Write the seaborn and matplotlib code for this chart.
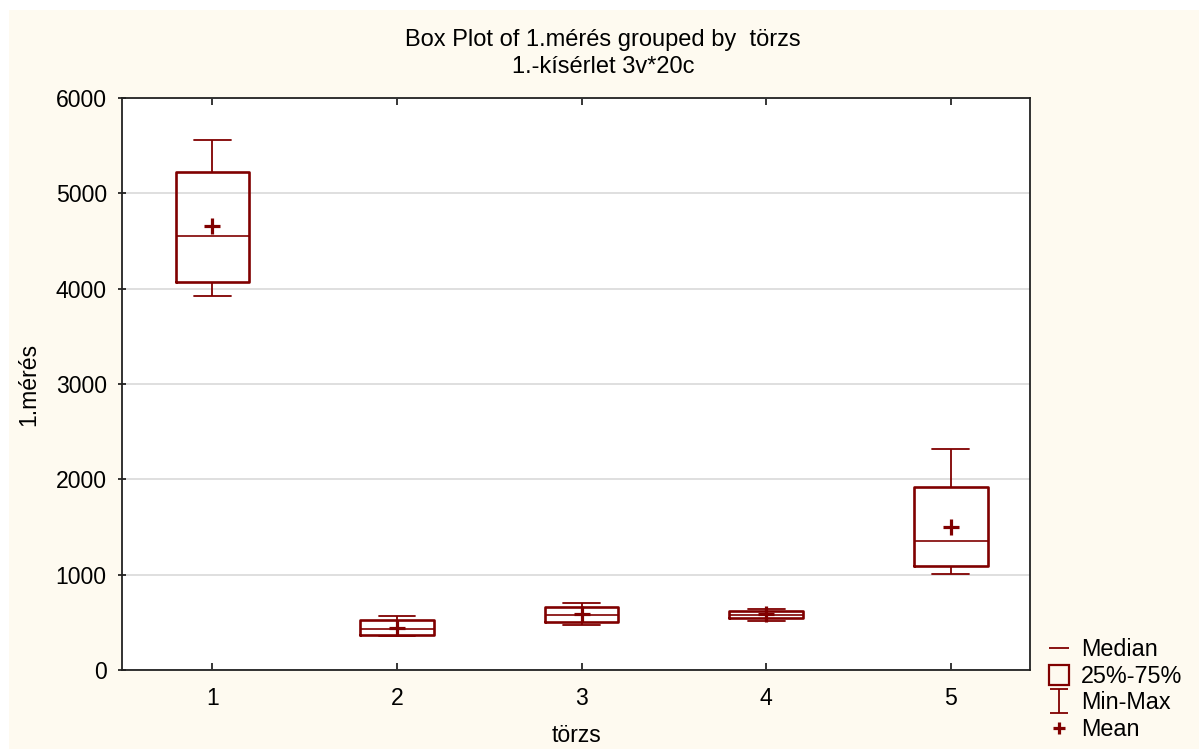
import numpy as np
import pandas as pd
import matplotlib
matplotlib.use("Agg")
import matplotlib.pyplot as plt
from matplotlib.lines import Line2D
from matplotlib.patches import Rectangle
from matplotlib.path import Path
import seaborn as sns

# adatok (leolvasva)
torzs = ["1", "2", "3", "4", "5"]
minimum = [3924, 357, 475, 517, 1007]
q1 = [4071, 367, 500, 546, 1091]
median = [4554, 427, 577, 580, 1350]
q3 = [5225, 521, 658, 622, 1920]
maximum = [5561, 567, 706, 640, 2319]
mean = [4659, 444, 588, 584, 1500]
yticks = [0, 1000, 2000, 3000, 4000, 5000, 6000]

# öt-szám összefoglaló -> hosszú formátum (kvartilisek így pontosan visszajönnek)
rows = []
for i, t in enumerate(torzs):
    for v in (minimum[i], q1[i], median[i], q3[i], maximum[i]):
        rows.append({"törzs": t, "1.mérés": v})
df = pd.DataFrame(rows)
mean_df = pd.DataFrame({"törzs": torzs, "1.mérés": mean})

sns.set_style("white")
plt.rcParams["font.family"] = ["Liberation Sans", "DejaVu Sans"]
plt.rcParams["text.color"] = "black"
plt.rcParams["axes.labelcolor"] = "black"
plt.rcParams["xtick.color"] = "black"
plt.rcParams["ytick.color"] = "black"

red = "#800000"
cream = "#FEFAF0"

fig = plt.figure(figsize=(11.99, 7.49), dpi=100, facecolor="white")
fig.patches.append(Rectangle((9 / 1199, 0), 1, 1 - 10 / 749, transform=fig.transFigure,
                             facecolor=cream, edgecolor="none", zorder=-10))
ax = fig.add_axes([122 / 1199, 1 - 670 / 749, (1030 - 122) / 1199, (670 - 98) / 749])
ax.set_facecolor("white")

sns.boxplot(data=df, x="törzs", y="1.mérés", order=torzs, ax=ax,
            whis=(0, 100), width=0.4, fill=False, color=red, showfliers=False,
            boxprops=dict(linewidth=1.9, color=red),
            medianprops=dict(linewidth=1.2, color=red),
            whiskerprops=dict(linewidth=1.3, color=red),
            capprops=dict(linewidth=1.3, color=red))
sns.pointplot(data=mean_df, x="törzs", y="1.mérés", order=torzs, ax=ax,
              errorbar=None, linestyle="none", marker="+", color=red,
              markersize=11, markeredgewidth=2.3)

ax.set_ylim(0, 6000)
ax.set_xlim(-0.49, 4.43)
ax.set_yticks(yticks)
ax.yaxis.grid(True, color="#d9d9d9", linewidth=1.2)
ax.set_axisbelow(True)
for s in ax.spines.values():
    s.set_visible(True)
    s.set_color("#222222")
    s.set_linewidth(1.3)

ax.tick_params(axis="y", direction="inout", length=6, width=1.1, labelsize=16.6, pad=8, left=True)
ax.tick_params(axis="x", direction="in", length=5, width=1.1, labelsize=16.6, pad=12,
               bottom=True, top=True)
ax.set_xlabel("törzs", fontsize=16.6, labelpad=10)
ax.set_ylabel("1.mérés", fontsize=16.6, labelpad=11)

fig.text(0.503, 1 - 40 / 749, "Box Plot of 1.mérés grouped by  törzs", ha="center", va="center", fontsize=17)
fig.text(0.503, 1 - 67 / 749, "1.-kísérlet 3v*20c", ha="center", va="center", fontsize=17)

ibeam = Path([(-0.4, 0.5), (0.4, 0.5), (0, 0.5), (0, -0.5), (-0.4, -0.5), (0.4, -0.5)],
             [Path.MOVETO, Path.LINETO, Path.MOVETO, Path.LINETO, Path.MOVETO, Path.LINETO])
handles = [
    Line2D([], [], color=red, marker="_", linestyle="none", markersize=15, markeredgewidth=1.3),
    Line2D([], [], color=red, marker="s", linestyle="none", markersize=14, markerfacecolor="none",
           markeredgewidth=1.6),
    Line2D([], [], color=red, marker=ibeam, linestyle="none", markersize=17, markeredgewidth=1.3),
    Line2D([], [], color=red, marker="+", linestyle="none", markersize=9, markeredgewidth=2.3),
]
labels = ["Median", "25%-75%", "Min-Max", "Mean"]
fig.legend(handles, labels, loc="lower left", bbox_to_anchor=(1030 / 1199, -8 / 749),
           frameon=False, fontsize=16.8, labelspacing=0.15, handlelength=1.1,
           handletextpad=0.4, borderpad=0.2)

fig.savefig("out.png", dpi=100, facecolor="white")
